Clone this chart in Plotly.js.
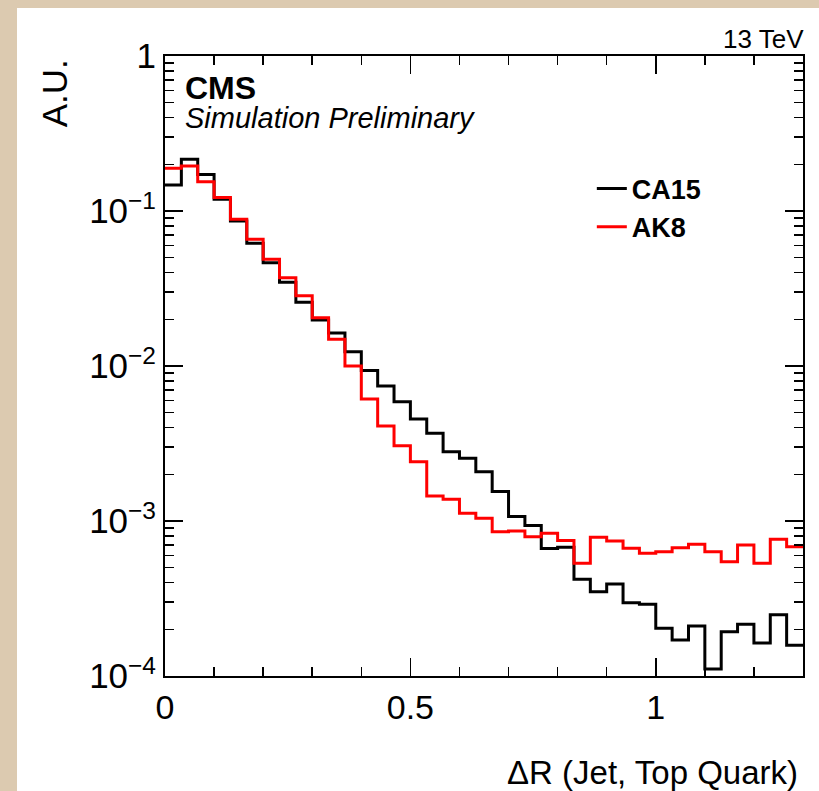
<!DOCTYPE html>
<html>
<head>
<meta charset="utf-8">
<script src="https://cdn.plot.ly/plotly-3.0.1.min.js"></script>
<style>
  html, body { margin: 0; padding: 0; background: #dccab0; width: 819px; height: 791px; overflow: hidden; }
  #chart { position: absolute; left: 17px; top: 8px; width: 802px; height: 783px; background: #ffffff; }
</style>
</head>
<body>
<div id="chart"></div>
<script>
// ---- Data ----
const binWidth = 1 / 30;          // ΔR bin width
const xMin = 0, xMax = 1.3;

const seriesNames = ["CA15", "AK8"];
const seriesColors = ["#000000", "#ff0000"];

// CA15 (black) per-bin content, A.U.
const ca15 = [
  0.147, 0.216, 0.172, 0.119, 0.0862, 0.0619, 0.0464, 0.0347, 0.0258, 0.0198,
  0.0163, 0.01236, 0.00935, 0.00743, 0.00589, 0.00455, 0.00368, 0.0028, 0.00254, 0.00208,
  0.00155, 0.00107, 0.000935, 0.000665, 0.000676, 0.000421, 0.00035, 0.000392, 0.000297, 0.00029,
  0.000203, 0.000171, 0.00021, 0.000111, 0.000193, 0.000216, 0.000163, 0.000248, 0.000158
];

// AK8 (red) per-bin content, A.U.
const ak8 = [
  0.1886, 0.195, 0.1545, 0.1222, 0.0884, 0.0657, 0.0488, 0.0371, 0.0284, 0.0205,
  0.01486, 0.0100, 0.00612, 0.0041, 0.00306, 0.00241, 0.00145, 0.00138, 0.00112, 0.00104,
  0.000853, 0.000862, 0.000792, 0.000833, 0.000748, 0.000533, 0.000785, 0.000743, 0.000667, 0.000619,
  0.000634, 0.000673, 0.000708, 0.000634, 0.000546, 0.0007, 0.000533, 0.000762, 0.000683
];

const yTickVals = [1e-4, 1e-3, 1e-2, 1e-1, 1];
const yTickText = ["10<sup>−4</sup>", "10<sup>−3</sup>", "10<sup>−2</sup>", "10<sup>−1</sup>", "1"];
const xTickVals = [0, 0.5, 1];
const xTickText = ["0", "0.5", "1"];

// ---- Build step traces (bin low edges + closing edge) ----
function stepTrace(vals, name, color) {
  const xs = [], ys = [];
  for (let i = 0; i < vals.length; i++) { xs.push(i * binWidth); ys.push(vals[i]); }
  xs.push(vals.length * binWidth); ys.push(vals[vals.length - 1]);
  return {
    type: "scatter", mode: "lines", x: xs, y: ys, name: name,
    line: { shape: "hv", color: color, width: 3 }
  };
}

const traces = [
  stepTrace(ca15, seriesNames[0], seriesColors[0]),
  stepTrace(ak8, seriesNames[1], seriesColors[1])
];

const FONT = "Liberation Sans";

const axisCommon = {
  showline: true, linecolor: "#000", linewidth: 2, mirror: "allticks",
  ticks: "inside", tickcolor: "#000", tickwidth: 1.5,
  showgrid: false, zeroline: false,
  tickfont: { family: FONT, size: 34, color: "#000" }
};

const layout = {
  width: 802, height: 783,
  paper_bgcolor: "#ffffff", plot_bgcolor: "#ffffff",
  margin: { l: 148, r: 16, t: 48, b: 115 },
  font: { family: FONT, color: "#000" },
  showlegend: true,
  legend: {
    x: 0.669, y: 0.825, xanchor: "left", yanchor: "top",
    bgcolor: "rgba(0,0,0,0)", borderwidth: 0,
    font: { family: FONT, size: 27, color: "#000", weight: "bold" },
    tracegroupgap: 0
  },
  xaxis: Object.assign({}, axisCommon, {
    range: [xMin, xMax], tickmode: "array", tickvals: xTickVals, ticktext: xTickText,
    ticklen: 18,
    minor: { ticks: "inside", ticklen: 9, dtick: 0.1, tick0: 0, tickcolor: "#000", tickwidth: 1.5, showgrid: false }
  }),
  yaxis: Object.assign({}, axisCommon, {
    type: "log", range: [-4, 0], tickmode: "array", tickvals: yTickVals, ticktext: yTickText,
    ticklen: 18,
    tickfont: { family: FONT, size: 35, color: "#000" },
    minor: { ticks: "inside", ticklen: 9, dtick: "D1", tickcolor: "#000", tickwidth: 1.5, showgrid: false }
  }),
  annotations: [
    { xref: "paper", yref: "paper", x: 0.0282, y: 0.948, xanchor: "left", yanchor: "middle",
      text: "<b>CMS</b>", showarrow: false, font: { family: FONT, size: 32, color: "#000" } },
    { xref: "paper", yref: "paper", x: 0.0282, y: 0.900, xanchor: "left", yanchor: "middle",
      text: "<i>Simulation Preliminary</i>", showarrow: false, font: { family: FONT, size: 29, color: "#000" } },
    { xref: "paper", yref: "paper", x: 1.0047, y: 1.027, xanchor: "right", yanchor: "middle",
      text: "13 TeV", showarrow: false, font: { family: FONT, size: 26, color: "#000" } },
    { xref: "paper", yref: "paper", x: -0.174, y: 0.998, xanchor: "center", yanchor: "top",
      text: "A.U.", textangle: -90, showarrow: false, font: { family: FONT, size: 35, color: "#000" } },
    { xref: "paper", yref: "paper", x: 0.995, y: -0.155, xanchor: "right", yanchor: "middle",
      text: "ΔR (Jet, Top Quark)", showarrow: false, font: { family: FONT, size: 33, color: "#000" } }
  ]
};

Plotly.newPlot("chart", traces, layout, { displayModeBar: false, staticPlot: true });
</script>
</body>
</html>
